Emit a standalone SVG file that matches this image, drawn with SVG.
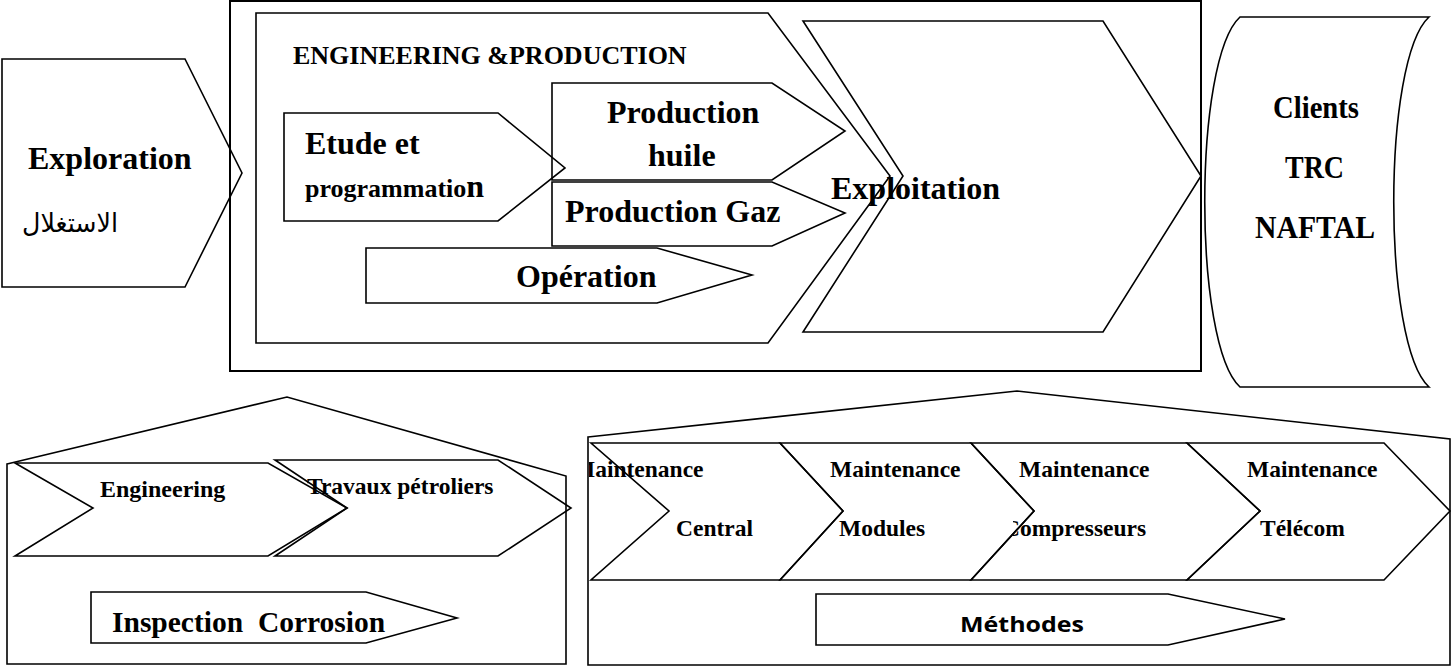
<svg xmlns="http://www.w3.org/2000/svg" width="1453" height="668" viewBox="0 0 1453 668">
<style>
.s{fill:none;stroke:#000;stroke-width:1.6;stroke-linejoin:miter}
.b{fill:none;stroke:#000;stroke-width:2}
.t{font-family:"Liberation Serif","Times New Roman",serif;font-weight:bold;fill:#000}
.ar{font-family:"DejaVu Sans",sans-serif;fill:#000}
.m{font-family:"Open Sans","Liberation Sans",sans-serif;font-weight:bold;fill:#000}
</style>
<defs>
<clipPath id="c1"><rect x="589" y="440" width="200" height="145"/></clipPath>
<clipPath id="c3"><rect x="1013" y="440" width="200" height="145"/></clipPath>
</defs>
<rect x="0" y="0" width="1453" height="668" fill="#fff"/>

<g id="exploration">
<polygon class="s" points="2,59 185,59 242,173 185,287 2,287"/>
<text class="t" x="28" y="169" font-size="32">Exploration</text>
<text class="ar" x="70" y="232" font-size="26" text-anchor="middle" textLength="96" lengthAdjust="spacingAndGlyphs">الاستغلال</text>
</g>

<g id="top-box">
<rect class="b" x="230" y="1" width="971" height="370"/>
</g>

<g id="engineering-production">
<polygon class="s" points="256,13 768,13 890,176 768,343 256,343"/>
<text class="t" x="293" y="64" font-size="26">ENGINEERING &amp;PRODUCTION</text>
</g>

<g id="etude">
<polygon class="s" points="284,113 498,113 565,168 498,221 284,221"/>
<text class="t" x="305" y="154" font-size="32">Etude et</text>
<text class="t" x="305" y="197" font-size="26">programmatio<tspan font-size="32">n</tspan></text>
</g>

<g id="production-huile">
<polygon class="s" points="552,83 772,83 845,131 772,180 552,180"/>
<text class="t" x="607" y="123" font-size="32">Production</text>
<text class="t" x="648" y="166" font-size="32">huile</text>
</g>

<g id="production-gaz">
<polygon class="s" points="552,182 772,182 845,213 772,246 552,246"/>
<text class="t" x="565" y="222" font-size="32">Production Gaz</text>
</g>

<g id="operation">
<polygon class="s" points="366,248 657,248 752,275 657,303 366,303"/>
<text class="t" x="516" y="287" font-size="32">Opération</text>
</g>

<g id="exploitation">
<polygon class="s" points="803,21 1103,21 1201,176 1103,332 803,332 903,176"/>
<text class="t" x="831" y="199" font-size="32">Exploitation</text>
</g>

<g id="clients">
<path class="s" d="M1240,17 L1429,17 C1382,60 1382,344 1429,387 L1240,387 C1193,344 1193,60 1240,17 Z"/>
<text class="t" x="1273" y="118" font-size="31" textLength="86" lengthAdjust="spacingAndGlyphs">Clients</text>
<text class="t" x="1285" y="178" font-size="31" textLength="59" lengthAdjust="spacingAndGlyphs">TRC</text>
<text class="t" x="1255" y="238" font-size="31" textLength="120" lengthAdjust="spacingAndGlyphs">NAFTAL</text>
</g>

<g id="house-left">
<polygon class="s" points="7,464 287,397 566,476 566,664 7,664"/>
</g>

<g id="engineering">
<polygon class="s" points="15,463 268,463 347,508 268,556 15,556 93,508"/>
<text class="t" x="100" y="497" font-size="24">Engineering</text>
</g>

<g id="travaux">
<polygon class="s" points="275,460 498,460 571,508 498,556 275,556 347,508"/>
<text class="t" x="307" y="494" font-size="23.5">Travaux pétroliers</text>
</g>

<g id="inspection">
<polygon class="s" points="91,592 366,592 457,618 366,643 91,643"/>
<text class="t" x="112" y="632" font-size="29.5" xml:space="preserve">Inspection  Corrosion</text>
</g>

<g id="house-right">
<polygon class="s" points="588,437 1017,391 1450,439 1450,665 588,665"/>
</g>

<g id="maint-central">
<polygon class="s" points="591,443 780,443 843,511 780,580 591,580 669,511"/>
<text class="t" x="573" y="477" font-size="23.5" clip-path="url(#c1)">Maintenance</text>
<text class="t" x="676" y="536" font-size="23.5">Central</text>
</g>

<g id="maint-modules">
<polygon class="s" points="780,443 971,443 1034,511 971,580 780,580 843,511"/>
<text class="t" x="830" y="477" font-size="23.5">Maintenance</text>
<text class="t" x="839" y="536" font-size="23.5">Modules</text>
</g>

<g id="maint-compresseurs">
<polygon class="s" points="971,443 1187,443 1260,511 1187,580 971,580 1034,511"/>
<text class="t" x="1019" y="477" font-size="23.5">Maintenance</text>
<text class="t" x="1003" y="536" font-size="23.5" clip-path="url(#c3)">Compresseurs</text>
</g>

<g id="maint-telecom">
<polygon class="s" points="1187,443 1384,443 1450,511 1384,580 1187,580 1260,511"/>
<text class="t" x="1247" y="477" font-size="23.5">Maintenance</text>
<text class="t" x="1260" y="536" font-size="23.5">Télécom</text>
</g>

<g id="methodes">
<polygon class="s" points="816,594 1168,594 1285,619 1168,645 816,645"/>
<text class="m" x="960" y="632" font-size="21" textLength="124" lengthAdjust="spacingAndGlyphs">Méthodes</text>
</g>

<g id="connectors"></g>
</svg>
